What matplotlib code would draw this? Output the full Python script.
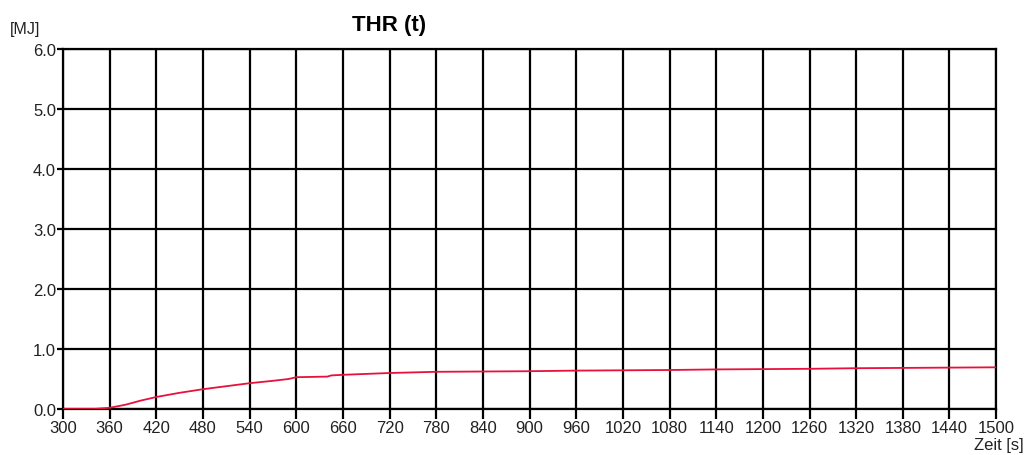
import numpy as np
import matplotlib.pyplot as plt

plt.rcParams['font.family'] = ['Liberation Sans', 'DejaVu Sans']

# THR curve
t = [300, 340, 360, 380, 400, 420, 450, 480, 510, 540, 570, 590, 600, 640, 645, 660,
     720, 780, 840, 900, 960, 1020, 1080, 1140, 1200, 1260, 1320, 1380, 1440, 1500]
thr = [0.0, 0.0, 0.02, 0.07, 0.14, 0.2, 0.27, 0.33, 0.38, 0.43, 0.47, 0.5, 0.53, 0.54, 0.56, 0.57,
       0.6, 0.62, 0.625, 0.63, 0.64, 0.645, 0.65, 0.66, 0.665, 0.67, 0.68, 0.685, 0.69, 0.695]

xticks = np.arange(300, 1501, 60)
yticks = np.arange(0, 6.01, 1.0)

fig = plt.figure(figsize=(10.28, 4.56), dpi=100)
ax = fig.add_axes([0.0613, 0.1009, 0.9077, 0.7891])

ax.plot(t, thr, color='#e8103c', lw=1.3, zorder=3)

ax.set_xlim(300, 1500)
ax.set_ylim(0, 6)
ax.set_xticks(xticks)
ax.set_yticks(yticks)
ax.set_xticklabels([str(v) for v in xticks])
ax.set_yticklabels(['{:.1f}'.format(v) for v in yticks])
ax.grid(True, color='black', lw=1.6)
for s in ax.spines.values():
    s.set_linewidth(1.6)
ax.tick_params(axis='x', length=7, width=1.6, color='black', labelsize=12, pad=1, labelcolor='#222222')
ax.tick_params(axis='y', length=4, width=1.6, color='black', labelsize=12, pad=1, labelcolor='#222222')

fig.text(0.378, 0.945, 'THR (t)', fontsize=16, fontweight='bold', ha='center', va='center')
fig.text(0.01, 0.935, '[MJ]', fontsize=11.5, ha='left', va='center', color='#222222')
fig.text(0.996, 0.024, 'Zeit [s]', fontsize=12, ha='right', va='center', color='#222222')

fig.savefig('out.png', dpi=100)
